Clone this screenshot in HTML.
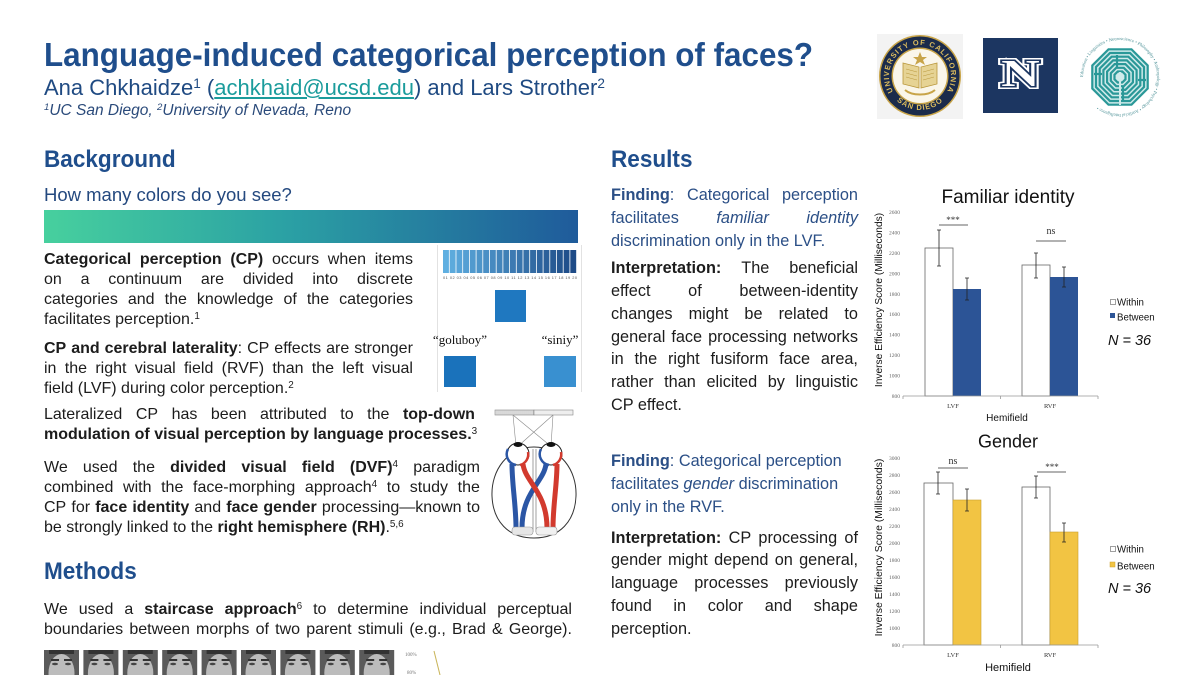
<!DOCTYPE html>
<html><head><meta charset="utf-8">
<style>
*{margin:0;padding:0;box-sizing:border-box}
html,body{width:1200px;height:675px;overflow:hidden;background:#fff}
body{position:relative;font-family:"Liberation Sans",Arial,sans-serif;color:#1c1c1c}
.a{position:absolute;white-space:nowrap}
.h{position:absolute;font-size:24px;line-height:30px;font-weight:bold;color:#1f4e8c;white-space:nowrap;transform:scaleX(0.94);transform-origin:0 0}
.l{position:absolute;left:44px;font-size:16px;line-height:20px;height:20px;white-space:nowrap}
.j{display:flex;justify-content:space-between}
.r{position:absolute;left:611px;width:247px;font-size:16.3px;line-height:23px;height:23px;white-space:nowrap}
.f{color:#2b4f86}
sup{font-size:0.62em;vertical-align:baseline;position:relative;top:-0.5em;line-height:0}
b{font-weight:bold}
svg.bg{position:absolute;left:0;top:0}
</style></head>
<body>
<svg class="bg" width="1200" height="675" viewBox="0 0 1200 675" xmlns="http://www.w3.org/2000/svg">
<defs>
<linearGradient id="gbar" x1="0" x2="1" y1="0" y2="0">
<stop offset="0" stop-color="#47d09e"/><stop offset="0.45" stop-color="#2ba1a4"/><stop offset="1" stop-color="#1f5b9b"/>
</linearGradient>
<pattern id="hatch" width="2" height="5" patternUnits="userSpaceOnUse"><rect width="2" height="5" fill="#f4f4f4"/><line x1="1" y1="0" x2="1" y2="5" stroke="#999" stroke-width="0.6"/></pattern>
<path id="arcTop" d="M894.6,93.8 A31,31 0 1 1 945.4,93.8" fill="none"/>
<path id="arcBot" d="M889.2,90.4 A34,34 0 0 0 950.8,90.4" fill="none"/>
<path id="ring" d="M1083,77 A37,37 0 1 1 1157,77 A37,37 0 1 1 1083,77" fill="none"/>
</defs>

<!-- gradient bar -->
<rect x="44" y="210" width="534" height="33" fill="url(#gbar)"/>

<!-- color figure -->
<line x1="437.5" y1="245" x2="437.5" y2="392" stroke="#e2e2e2" stroke-width="1"/>
<line x1="581.5" y1="245" x2="581.5" y2="392" stroke="#e2e2e2" stroke-width="1"/>
<g>
<rect x="443.0" y="250" width="5.9" height="23" fill="#5fafe1"/>
<rect x="449.7" y="250" width="5.9" height="23" fill="#5caadc"/>
<rect x="456.4" y="250" width="5.9" height="23" fill="#58a4d8"/>
<rect x="463.1" y="250" width="5.9" height="23" fill="#559fd3"/>
<rect x="469.8" y="250" width="5.9" height="23" fill="#519ace"/>
<rect x="476.5" y="250" width="5.9" height="23" fill="#4e95c9"/>
<rect x="483.2" y="250" width="5.9" height="23" fill="#4a8fc5"/>
<rect x="489.9" y="250" width="5.9" height="23" fill="#478ac0"/>
<rect x="496.6" y="250" width="5.9" height="23" fill="#4485bb"/>
<rect x="503.3" y="250" width="5.9" height="23" fill="#4080b6"/>
<rect x="510.0" y="250" width="5.9" height="23" fill="#3d7ab2"/>
<rect x="516.7" y="250" width="5.9" height="23" fill="#3975ad"/>
<rect x="523.4" y="250" width="5.9" height="23" fill="#3670a8"/>
<rect x="530.1" y="250" width="5.9" height="23" fill="#336ba3"/>
<rect x="536.8" y="250" width="5.9" height="23" fill="#2f659f"/>
<rect x="543.5" y="250" width="5.9" height="23" fill="#2c609a"/>
<rect x="550.2" y="250" width="5.9" height="23" fill="#285b95"/>
<rect x="556.9" y="250" width="5.9" height="23" fill="#255690"/>
<rect x="563.6" y="250" width="5.9" height="23" fill="#21508c"/>
<rect x="570.3" y="250" width="5.9" height="23" fill="#1e4b87"/>
</g>
<text x="443" y="279" font-family="Liberation Sans,sans-serif" font-size="3.9" fill="#555" textLength="134" lengthAdjust="spacing">01 02 03 04 05 06 07 08 09 10 11 12 13 14 15 16 17 18 19 20</text>
<rect x="495" y="290" width="31" height="32" fill="#1f78c0"/>
<text x="460" y="344" font-family="Liberation Serif,serif" font-size="13" fill="#111" text-anchor="middle">“goluboy”</text>
<text x="560" y="344" font-family="Liberation Serif,serif" font-size="13" fill="#111" text-anchor="middle">“siniy”</text>
<rect x="444" y="356" width="32" height="31" fill="#1a72bb"/>
<rect x="544" y="356" width="32" height="31" fill="#3990d0"/>

<!-- brain diagram -->
<g>
<rect x="495" y="410" width="39" height="5" fill="url(#hatch)" stroke="#888" stroke-width="0.6"/>
<rect x="534" y="410" width="39" height="5" fill="#eeeeee" stroke="#888" stroke-width="0.6"/>
<g stroke="#8a8a8a" stroke-width="0.6">
<line x1="513" y1="415" x2="516" y2="446"/><line x1="513" y1="415" x2="553" y2="448"/>
<line x1="553" y1="415" x2="551" y2="446"/><line x1="553" y1="415" x2="516" y2="448"/>
</g>
<path d="M534,447 C560,447 577,470 576,496 C575,521 560,538 534,538 C508,538 493,521 492,496 C491,470 508,447 534,447Z" fill="none" stroke="#333" stroke-width="1"/>
<line x1="533" y1="449" x2="533" y2="532" stroke="#777" stroke-width="0.7"/>
<line x1="536" y1="449" x2="536" y2="532" stroke="#777" stroke-width="0.7"/>
<circle cx="518" cy="454" r="11" fill="#fff" stroke="#222" stroke-width="1"/>
<circle cx="551" cy="454" r="11" fill="#fff" stroke="#222" stroke-width="1"/>
<ellipse cx="518" cy="444.5" rx="4.5" ry="2.5" fill="#111"/>
<ellipse cx="551" cy="444.5" rx="4.5" ry="2.5" fill="#111"/>
<path d="M508,449 A11,11 0 0 0 516,465" fill="none" stroke="#2b56a5" stroke-width="2.5"/>
<path d="M520,465 A11,11 0 0 0 528,452" fill="none" stroke="#d23a2e" stroke-width="2.5"/>
<path d="M541,449 A11,11 0 0 0 549,465" fill="none" stroke="#2b56a5" stroke-width="2.5"/>
<path d="M553,465 A11,11 0 0 0 561,452" fill="none" stroke="#d23a2e" stroke-width="2.5"/>
<path d="M512,464 C512,485 516,505 516,528" fill="none" stroke="#2b56a5" stroke-width="5"/>
<path d="M546,464 C544,482 522,492 522,528" fill="none" stroke="#2b56a5" stroke-width="5"/>
<path d="M523,464 C525,482 547,492 547,528" fill="none" stroke="#d23a2e" stroke-width="5"/>
<path d="M557,464 C557,485 553,505 553,528" fill="none" stroke="#d23a2e" stroke-width="5"/>
<rect x="512" y="527" width="21" height="8" rx="3" fill="#e6e6e6" stroke="#999" stroke-width="0.6"/>
<rect x="536" y="527" width="21" height="8" rx="3" fill="#f0f0f0" stroke="#999" stroke-width="0.6"/>
</g>

<!-- faces strip -->
<g>
<g transform="translate(44,0)"><rect x="0" y="650" width="35" height="25" fill="#5a5a5a"/><ellipse cx="17.5" cy="673" rx="13" ry="19" fill="#bcbcbc"/><rect x="5" y="650" width="25" height="4" fill="#333"/><rect x="7" y="659" width="8" height="2" fill="#333"/><rect x="20" y="659" width="8" height="2" fill="#333"/><ellipse cx="11" cy="664" rx="3" ry="1.3" fill="#444"/><ellipse cx="24" cy="664" rx="3" ry="1.3" fill="#444"/></g>
<g transform="translate(83.4,0)"><rect x="0" y="650" width="35" height="25" fill="#5a5a5a"/><ellipse cx="17.5" cy="673" rx="13" ry="19" fill="#bcbcbc"/><rect x="5" y="650" width="25" height="4" fill="#333"/><rect x="7" y="659" width="8" height="2" fill="#333"/><rect x="20" y="659" width="8" height="2" fill="#333"/><ellipse cx="11" cy="664" rx="3" ry="1.3" fill="#444"/><ellipse cx="24" cy="664" rx="3" ry="1.3" fill="#444"/></g>
<g transform="translate(122.8,0)"><rect x="0" y="650" width="35" height="25" fill="#5a5a5a"/><ellipse cx="17.5" cy="673" rx="13" ry="19" fill="#bcbcbc"/><rect x="5" y="650" width="25" height="4" fill="#333"/><rect x="7" y="659" width="8" height="2" fill="#333"/><rect x="20" y="659" width="8" height="2" fill="#333"/><ellipse cx="11" cy="664" rx="3" ry="1.3" fill="#444"/><ellipse cx="24" cy="664" rx="3" ry="1.3" fill="#444"/></g>
<g transform="translate(162.2,0)"><rect x="0" y="650" width="35" height="25" fill="#5a5a5a"/><ellipse cx="17.5" cy="673" rx="13" ry="19" fill="#bcbcbc"/><rect x="5" y="650" width="25" height="4" fill="#333"/><rect x="7" y="659" width="8" height="2" fill="#333"/><rect x="20" y="659" width="8" height="2" fill="#333"/><ellipse cx="11" cy="664" rx="3" ry="1.3" fill="#444"/><ellipse cx="24" cy="664" rx="3" ry="1.3" fill="#444"/></g>
<g transform="translate(201.6,0)"><rect x="0" y="650" width="35" height="25" fill="#5a5a5a"/><ellipse cx="17.5" cy="673" rx="13" ry="19" fill="#bcbcbc"/><rect x="5" y="650" width="25" height="4" fill="#333"/><rect x="7" y="659" width="8" height="2" fill="#333"/><rect x="20" y="659" width="8" height="2" fill="#333"/><ellipse cx="11" cy="664" rx="3" ry="1.3" fill="#444"/><ellipse cx="24" cy="664" rx="3" ry="1.3" fill="#444"/></g>
<g transform="translate(241,0)"><rect x="0" y="650" width="35" height="25" fill="#5a5a5a"/><ellipse cx="17.5" cy="673" rx="13" ry="19" fill="#bcbcbc"/><rect x="5" y="650" width="25" height="4" fill="#333"/><rect x="7" y="659" width="8" height="2" fill="#333"/><rect x="20" y="659" width="8" height="2" fill="#333"/><ellipse cx="11" cy="664" rx="3" ry="1.3" fill="#444"/><ellipse cx="24" cy="664" rx="3" ry="1.3" fill="#444"/></g>
<g transform="translate(280.4,0)"><rect x="0" y="650" width="35" height="25" fill="#5a5a5a"/><ellipse cx="17.5" cy="673" rx="13" ry="19" fill="#bcbcbc"/><rect x="5" y="650" width="25" height="4" fill="#333"/><rect x="7" y="659" width="8" height="2" fill="#333"/><rect x="20" y="659" width="8" height="2" fill="#333"/><ellipse cx="11" cy="664" rx="3" ry="1.3" fill="#444"/><ellipse cx="24" cy="664" rx="3" ry="1.3" fill="#444"/></g>
<g transform="translate(319.8,0)"><rect x="0" y="650" width="35" height="25" fill="#5a5a5a"/><ellipse cx="17.5" cy="673" rx="13" ry="19" fill="#bcbcbc"/><rect x="5" y="650" width="25" height="4" fill="#333"/><rect x="7" y="659" width="8" height="2" fill="#333"/><rect x="20" y="659" width="8" height="2" fill="#333"/><ellipse cx="11" cy="664" rx="3" ry="1.3" fill="#444"/><ellipse cx="24" cy="664" rx="3" ry="1.3" fill="#444"/></g>
<g transform="translate(359.2,0)"><rect x="0" y="650" width="35" height="25" fill="#5a5a5a"/><ellipse cx="17.5" cy="673" rx="13" ry="19" fill="#bcbcbc"/><rect x="5" y="650" width="25" height="4" fill="#333"/><rect x="7" y="659" width="8" height="2" fill="#333"/><rect x="20" y="659" width="8" height="2" fill="#333"/><ellipse cx="11" cy="664" rx="3" ry="1.3" fill="#444"/><ellipse cx="24" cy="664" rx="3" ry="1.3" fill="#444"/></g>
</g>
<text x="405" y="656" font-family="Liberation Serif,serif" font-size="5" fill="#777">100%</text>
<text x="407" y="674" font-family="Liberation Serif,serif" font-size="5" fill="#777">80%</text>
<line x1="434" y1="651" x2="440" y2="675" stroke="#c9b55a" stroke-width="1"/>

<!-- UCSD seal -->
<rect x="877" y="34" width="86" height="85" fill="#f3f3f3"/>
<circle cx="920" cy="76" r="41" fill="#c8a448"/>
<circle cx="920" cy="76" r="39.5" fill="#1b2b4b"/>
<circle cx="920" cy="76" r="28.5" fill="#c8a448"/>
<circle cx="920" cy="76" r="27" fill="#faf6ea"/>
<text font-family="Liberation Sans,sans-serif" font-size="7.5" font-weight="bold" fill="#dcbc5e" letter-spacing="1"><textPath href="#arcTop" startOffset="50%" text-anchor="middle">UNIVERSITY OF CALIFORNIA</textPath></text>
<text font-family="Liberation Sans,sans-serif" font-size="7.5" font-weight="bold" fill="#dcbc5e" letter-spacing="1"><textPath href="#arcBot" startOffset="50%" text-anchor="middle">SAN DIEGO</textPath></text>
<path d="M903,63 L919,67 L919,88 L903,84Z" fill="#e6d394" stroke="#b8963a" stroke-width="0.8"/>
<path d="M937,63 L921,67 L921,88 L937,84Z" fill="#e6d394" stroke="#b8963a" stroke-width="0.8"/>
<g stroke="#b8963a" stroke-width="0.5"><line x1="906" y1="69" x2="917" y2="72"/><line x1="906" y1="73" x2="917" y2="76"/><line x1="906" y1="77" x2="917" y2="80"/><line x1="923" y1="72" x2="934" y2="69"/><line x1="923" y1="76" x2="934" y2="73"/><line x1="923" y1="80" x2="934" y2="77"/></g>
<polygon points="920,52 922,57 927,57 923,60 925,65 920,62 915,65 917,60 913,57 918,57" fill="#c8a448"/>
<path d="M905,90 C912,96 928,96 935,90" fill="none" stroke="#c8a448" stroke-width="2"/>

<!-- Nevada -->
<rect x="983" y="38" width="75" height="75" fill="#1c3661"/>
<g transform="translate(1020.5,86) scale(1.4,1)" font-family="Liberation Serif,serif" font-weight="bold" font-size="38" text-anchor="middle">
<text x="0" y="0" fill="#fff" stroke="#fff" stroke-width="6" stroke-linejoin="miter">N</text>
<text x="0" y="0" fill="#fff" stroke="#1c3661" stroke-width="3" stroke-linejoin="miter">N</text>
<text x="0" y="0" fill="#fff">N</text>
</g>

<!-- labyrinth -->
<g transform="translate(1120,77)" fill="none" stroke="#2a9898" stroke-width="2.2">
<polygon points="27.7,11.5 11.5,27.7 -11.5,27.7 -27.7,11.5 -27.7,-11.5 -11.5,-27.7 11.5,-27.7 27.7,-11.5" fill="#cfeaea"/>
<polygon points="24,10 10,24 -10,24 -24,10 -24,-10 -10,-24 10,-24 24,-10"/>
<polygon points="20.3,8.4 8.4,20.3 -8.4,20.3 -20.3,8.4 -20.3,-8.4 -8.4,-20.3 8.4,-20.3 20.3,-8.4"/>
<polygon points="16.6,6.9 6.9,16.6 -6.9,16.6 -16.6,6.9 -16.6,-6.9 -6.9,-16.6 6.9,-16.6 16.6,-6.9"/>
<polygon points="12.9,5.4 5.4,12.9 -5.4,12.9 -12.9,5.4 -12.9,-5.4 -5.4,-12.9 5.4,-12.9 12.9,-5.4"/>
<polygon points="9.2,3.8 3.8,9.2 -3.8,9.2 -9.2,3.8 -9.2,-3.8 -3.8,-9.2 3.8,-9.2 9.2,-3.8"/>
<polygon points="5.5,2.3 2.3,5.5 -2.3,5.5 -5.5,2.3 -5.5,-2.3 -2.3,-5.5 2.3,-5.5 5.5,-2.3"/>
<line x1="0" y1="-5" x2="0" y2="28" stroke="#cfeaea" stroke-width="2"/>
<line x1="-3" y1="-22" x2="-3" y2="-9"/><line x1="3" y1="10" x2="3" y2="25"/>
<line x1="-18" y1="-3" x2="-26" y2="-3"/><line x1="18" y1="3" x2="26" y2="3"/>
</g>
<text font-family="Liberation Serif,serif" font-size="4.6" fill="#4a8f95"><textPath href="#ring">Education • Linguistics • Neuroscience • Philosophy • Anthropology • Psychology • Artificial Intelligence •</textPath></text>

<!-- Chart 1 -->
<g font-family="Liberation Sans,sans-serif">
<text x="1008" y="203" font-size="19" text-anchor="middle" fill="#111">Familiar identity</text>
<g font-family="Liberation Serif,serif" font-size="5.5" fill="#666" text-anchor="end">
<text x="900" y="214">2600</text><text x="900" y="234.4">2400</text><text x="900" y="254.9">2200</text><text x="900" y="275.3">2000</text><text x="900" y="295.8">1800</text><text x="900" y="316.2">1600</text><text x="900" y="336.7">1400</text><text x="900" y="357.1">1200</text><text x="900" y="377.6">1000</text><text x="900" y="398">800</text>
</g>
<text transform="translate(882,300) rotate(-90)" text-anchor="middle" font-size="10.2" fill="#111">Inverse Efficiency Score (Milliseconds)</text>
<rect x="925" y="248" width="28" height="148" fill="#fff" stroke="#666" stroke-width="0.8"/>
<rect x="953" y="289" width="28" height="107" fill="#2c5496"/>
<rect x="1022" y="265" width="28" height="131" fill="#fff" stroke="#666" stroke-width="0.8"/>
<rect x="1050" y="277" width="28" height="119" fill="#2c5496"/>
<line x1="903" y1="396" x2="1098" y2="396" stroke="#999" stroke-width="0.8"/>
<path d="M903,396V399M1000.5,396V399M1098,396V399" stroke="#999" stroke-width="0.8"/>
<path d="M939,230V266M937,230H941M937,266H941 M967,278V300M965,278H969M965,300H969 M1036,253V278M1034,253H1038M1034,278H1038 M1064,267V287M1062,267H1066M1062,287H1066" stroke="#222" stroke-width="0.8" fill="none"/>
<text x="953" y="223" font-family="Liberation Serif,serif" font-size="9" text-anchor="middle" fill="#333">***</text>
<line x1="939" y1="225" x2="968" y2="225" stroke="#333" stroke-width="0.8"/>
<text x="1051" y="234" font-family="Liberation Serif,serif" font-size="10" text-anchor="middle" fill="#333">ns</text>
<line x1="1036" y1="241" x2="1066" y2="241" stroke="#333" stroke-width="0.8"/>
<text x="953" y="408" font-family="Liberation Serif,serif" font-size="6.5" text-anchor="middle" fill="#333">LVF</text>
<text x="1050" y="408" font-family="Liberation Serif,serif" font-size="6.5" text-anchor="middle" fill="#333">RVF</text>
<text x="1007" y="421" font-size="10" text-anchor="middle" fill="#111">Hemifield</text>
<rect x="1110.5" y="299.5" width="5" height="5" fill="#fff" stroke="#777" stroke-width="0.7"/>
<text x="1117" y="305.5" font-size="9.7" fill="#111">Within</text>
<rect x="1110" y="313" width="5" height="5" fill="#2c5496"/>
<text x="1117" y="320.5" font-size="9.7" fill="#111">Between</text>
<text x="1108" y="345" font-size="14.5" font-style="italic" fill="#111">N = 36</text>
</g>

<!-- Chart 2 -->
<g font-family="Liberation Sans,sans-serif">
<text x="1008" y="447.5" font-size="18" text-anchor="middle" fill="#111">Gender</text>
<g font-family="Liberation Serif,serif" font-size="5.5" fill="#666" text-anchor="end">
<text x="900" y="460">3000</text><text x="900" y="477">2800</text><text x="900" y="494">2600</text><text x="900" y="511">2400</text><text x="900" y="528">2200</text><text x="900" y="545">2000</text><text x="900" y="562">1800</text><text x="900" y="579">1600</text><text x="900" y="596">1400</text><text x="900" y="613">1200</text><text x="900" y="630">1000</text><text x="900" y="647">800</text>
</g>
<text transform="translate(882,547.5) rotate(-90)" text-anchor="middle" font-size="10.4" fill="#111">Inverse Efficiency Score (Milliseconds)</text>
<rect x="924" y="483" width="29" height="162" fill="#fff" stroke="#666" stroke-width="0.8"/>
<rect x="953" y="500" width="28" height="145" fill="#f2c443" stroke="#c9a030" stroke-width="0.6"/>
<rect x="1022" y="487" width="28" height="158" fill="#fff" stroke="#666" stroke-width="0.8"/>
<rect x="1050" y="532" width="28" height="113" fill="#f2c443" stroke="#c9a030" stroke-width="0.6"/>
<line x1="903" y1="645" x2="1098" y2="645" stroke="#999" stroke-width="0.8"/>
<path d="M903,645V648M1000.5,645V648M1098,645V648" stroke="#999" stroke-width="0.8"/>
<path d="M938,472V494M936,472H940M936,494H940 M967,489V511M965,489H969M965,511H969 M1036,476V498M1034,476H1038M1034,498H1038 M1064,523V542M1062,523H1066M1062,542H1066" stroke="#222" stroke-width="0.8" fill="none"/>
<text x="953" y="464" font-family="Liberation Serif,serif" font-size="10" text-anchor="middle" fill="#333">ns</text>
<line x1="938" y1="468" x2="968" y2="468" stroke="#333" stroke-width="0.8"/>
<text x="1052" y="470" font-family="Liberation Serif,serif" font-size="9" text-anchor="middle" fill="#333">***</text>
<line x1="1037" y1="472" x2="1066" y2="472" stroke="#333" stroke-width="0.8"/>
<text x="953" y="657" font-family="Liberation Serif,serif" font-size="6.5" text-anchor="middle" fill="#333">LVF</text>
<text x="1050" y="657" font-family="Liberation Serif,serif" font-size="6.5" text-anchor="middle" fill="#333">RVF</text>
<text x="1008" y="671" font-size="11" text-anchor="middle" fill="#111">Hemifield</text>
<rect x="1110.5" y="546.5" width="5" height="5" fill="#fff" stroke="#777" stroke-width="0.7"/>
<text x="1117" y="552.5" font-size="9.7" fill="#111">Within</text>
<rect x="1110" y="562" width="5" height="5" fill="#f2c443" stroke="#c9a030" stroke-width="0.5"/>
<text x="1117" y="569.5" font-size="9.7" fill="#111">Between</text>
<text x="1108" y="593" font-size="14.5" font-style="italic" fill="#111">N = 36</text>
</g>
</svg>

<!-- Header -->
<div class="a" style="left:44px;top:35px;font-size:33px;line-height:40px;font-weight:bold;color:#1f4e8c;transform:scaleX(0.951);transform-origin:0 0">Language-induced categorical perception of faces?</div>
<div class="a" style="left:44px;top:75px;font-size:22px;line-height:26px;color:#1f4a82">Ana Chkhaidze<sup>1</sup> (<span style="color:#1b9c9c;text-decoration:underline">achkhaid@ucsd.edu</span>) and Lars Strother<sup>2</sup></div>
<div class="a" style="left:44px;top:102px;font-size:15.5px;line-height:18px;font-style:italic;color:#2a4a7a"><sup>1</sup>UC San Diego, <sup>2</sup>University of Nevada, Reno</div>

<!-- Background -->
<div class="h" style="left:44px;top:145px">Background</div>
<div class="a" style="left:44px;top:184px;font-size:18.5px;line-height:22px;color:#24497f">How many colors do you see?</div>

<div class="l j" style="top:250px;width:369px"><span><b>Categorical</b></span><span><b>perception</b></span><span><b>(CP)</b></span><span>occurs</span><span>when</span><span>items</span></div>
<div class="l j" style="top:270px;width:369px"><span>on</span><span>a</span><span>continuum</span><span>are</span><span>divided</span><span>into</span><span>discrete</span></div>
<div class="l j" style="top:290px;width:369px"><span>categories</span><span>and</span><span>the</span><span>knowledge</span><span>of</span><span>the</span><span>categories</span></div>
<div class="l" style="top:310px">facilitates perception.<sup>1</sup></div>

<div class="l j" style="top:339px;width:369px"><span><b>CP</b></span><span><b>and</b></span><span><b>cerebral</b></span><span><b>laterality</b>:</span><span>CP</span><span>effects</span><span>are</span><span>stronger</span></div>
<div class="l j" style="top:359px;width:369px"><span>in</span><span>the</span><span>right</span><span>visual</span><span>field</span><span>(RVF)</span><span>than</span><span>the</span><span>left</span><span>visual</span></div>
<div class="l" style="top:379px">field (LVF) during color perception.<sup>2</sup></div>

<div class="l j" style="top:405px;width:431px"><span>Lateralized</span><span>CP</span><span>has</span><span>been</span><span>attributed</span><span>to</span><span>the</span><span><b>top-down</b></span></div>
<div class="l" style="top:425px"><b>modulation of visual perception by language processes.</b><sup>3</sup></div>

<div class="l j" style="top:458px;width:436px"><span>We</span><span>used</span><span>the</span><span><b>divided</b></span><span><b>visual</b></span><span><b>field</b></span><span><b>(DVF)</b><sup>4</sup></span><span>paradigm</span></div>
<div class="l j" style="top:478px;width:436px"><span>combined</span><span>with</span><span>the</span><span>face-morphing</span><span>approach<sup>4</sup></span><span>to</span><span>study</span><span>the</span></div>
<div class="l j" style="top:498px;width:436px"><span>CP</span><span>for</span><span><b>face</b></span><span><b>identity</b></span><span>and</span><span><b>face</b></span><span><b>gender</b></span><span>processing—known</span><span>to</span></div>
<div class="l" style="top:518px">be strongly linked to the <b>right hemisphere (RH)</b>.<sup>5,6</sup></div>

<!-- Methods -->
<div class="h" style="left:44px;top:557px">Methods</div>
<div class="l j" style="top:600px;width:528px"><span>We</span><span>used</span><span>a</span><span><b>staircase</b></span><span><b>approach</b><sup>6</sup></span><span>to</span><span>determine</span><span>individual</span><span>perceptual</span></div>
<div class="l j" style="top:620px;width:528px"><span>boundaries</span><span>between</span><span>morphs</span><span>of</span><span>two</span><span>parent</span><span>stimuli</span><span>(e.g.,</span><span>Brad</span><span>&amp;</span><span>George).</span></div>

<!-- Results -->
<div class="h" style="left:611px;top:145px">Results</div>
<div class="r j f" style="top:184px"><span><b>Finding</b>:</span><span>Categorical</span><span>perception</span></div>
<div class="r j f" style="top:207px"><span>facilitates</span><span><i>familiar</i></span><span><i>identity</i></span></div>
<div class="r f" style="top:230px">discrimination only in the LVF.</div>
<div class="r j" style="top:257px"><span><b>Interpretation:</b></span><span>The</span><span>beneficial</span></div>
<div class="r j" style="top:280px"><span>effect</span><span>of</span><span>between-identity</span></div>
<div class="r j" style="top:303px"><span>changes</span><span>might</span><span>be</span><span>related</span><span>to</span></div>
<div class="r j" style="top:326px"><span>general</span><span>face</span><span>processing</span><span>networks</span></div>
<div class="r j" style="top:348px"><span>in</span><span>the</span><span>right</span><span>fusiform</span><span>face</span><span>area,</span></div>
<div class="r j" style="top:371px"><span>rather</span><span>than</span><span>elicited</span><span>by</span><span>linguistic</span></div>
<div class="r" style="top:394px">CP effect.</div>

<div class="r f" style="top:450px"><b>Finding</b>: Categorical perception</div>
<div class="r f" style="top:473px">facilitates <i>gender</i> discrimination</div>
<div class="r f" style="top:496px">only in the RVF.</div>
<div class="r j" style="top:527px"><span><b>Interpretation:</b></span><span>CP</span><span>processing</span><span>of</span></div>
<div class="r j" style="top:549px"><span>gender</span><span>might</span><span>depend</span><span>on</span><span>general,</span></div>
<div class="r j" style="top:572px"><span>language</span><span>processes</span><span>previously</span></div>
<div class="r j" style="top:595px"><span>found</span><span>in</span><span>color</span><span>and</span><span>shape</span></div>
<div class="r" style="top:618px">perception.</div>
</body></html>
